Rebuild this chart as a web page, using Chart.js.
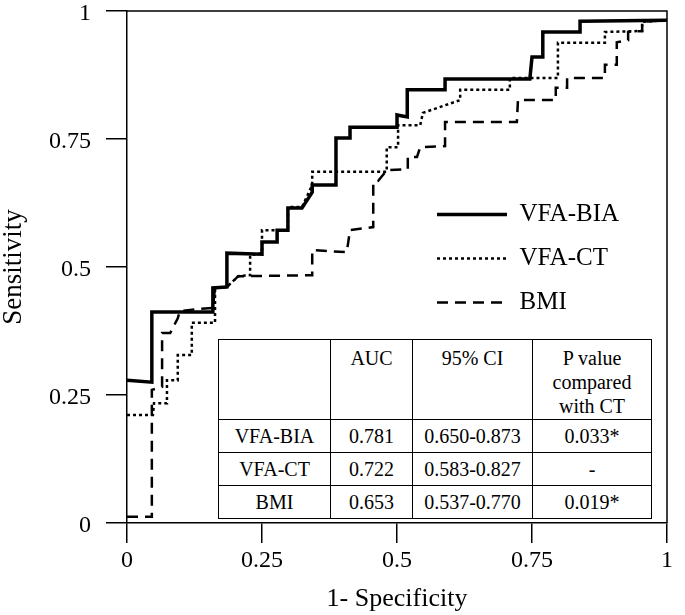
<!DOCTYPE html>
<html>
<head>
<meta charset="utf-8">
<script src="https://cdn.jsdelivr.net/npm/chart.js@4.4.1/dist/chart.umd.min.js"></script>
<style>
  body { margin: 0; background: #fff; }
  #wrap { position: relative; width: 685px; height: 615px; }
  #aucTable {
    position: absolute; left: 218px; top: 339px;
    width: 433px; table-layout: fixed;
    border-collapse: collapse; background: #fff;
    font-family: 'Liberation Serif', serif; font-size: 20px; color: #000;
  }
  #aucTable td { border: 1.5px solid #000; text-align: center; padding: 0; line-height: 22px; }
  #aucTable tr.head td { vertical-align: top; padding-top: 6px; line-height: 24px; white-space: pre-line; }
</style>
</head>
<body>
<div id="wrap">
  <canvas id="roc" width="685" height="615"></canvas>
  <table id="aucTable">
    <colgroup><col style="width:112px"><col style="width:82px"><col style="width:120px"><col style="width:119px"></colgroup>
    <tbody></tbody>
  </table>
</div>
<script>
// axis ticks
const tickValues = [0, 0.25, 0.5, 0.75, 1];
const tickLabels = ['0', '0.25', '0.5', '0.75', '1'];

const seriesNames = ['VFA-BIA', 'VFA-CT', 'BMI'];

// VFA-BIA (solid)
const biaX = [0, 0.046, 0.046, 0.159, 0.159, 0.185, 0.185, 0.250, 0.250, 0.278, 0.278, 0.298, 0.298, 0.324, 0.343, 0.343,
  0.387, 0.387, 0.413, 0.413, 0.500, 0.500, 0.519, 0.519, 0.589, 0.589, 0.746, 0.750, 0.770, 0.770, 0.839, 0.839, 1];
const biaY = [0.279, 0.275, 0.412, 0.412, 0.459, 0.461, 0.527, 0.525, 0.549, 0.549, 0.572, 0.572, 0.615, 0.615, 0.646, 0.660,
  0.660, 0.752, 0.752, 0.773, 0.773, 0.797, 0.793, 0.846, 0.846, 0.867, 0.867, 0.910, 0.910, 0.959, 0.959, 0.980, 0.982];

// VFA-CT (dotted)
const ctX = [0, 0.048, 0.050, 0.074, 0.074, 0.094, 0.094, 0.120, 0.120, 0.163, 0.163, 0.185, 0.206, 0.228, 0.228, 0.250,
  0.250, 0.298, 0.298, 0.324, 0.343, 0.343, 0.481, 0.481, 0.502, 0.502, 0.543, 0.548, 0.617, 0.617, 0.709, 0.709,
  0.798, 0.798, 0.885, 0.885, 0.954, 0.954, 1];
const ctY = [0.211, 0.211, 0.234, 0.234, 0.279, 0.279, 0.328, 0.328, 0.391, 0.391, 0.459, 0.461, 0.482, 0.484, 0.523, 0.527,
  0.572, 0.572, 0.617, 0.617, 0.660, 0.686, 0.686, 0.734, 0.734, 0.777, 0.777, 0.801, 0.826, 0.846, 0.846, 0.869,
  0.869, 0.938, 0.938, 0.959, 0.961, 0.979, 0.982];

// BMI (dashed)
const bmiX = [0, 0.046, 0.046, 0.065, 0.065, 0.080, 0.094, 0.098, 0.131, 0.159, 0.163, 0.185, 0.206, 0.343, 0.343, 0.407,
  0.413, 0.456, 0.456, 0.465, 0.481, 0.520, 0.520, 0.537, 0.543, 0.589, 0.589, 0.722, 0.724, 0.794, 0.794, 0.815,
  0.815, 0.885, 0.885, 0.907, 0.907, 0.928, 0.928, 0.954, 0.954, 1];
const bmiY = [0.012, 0.012, 0.260, 0.266, 0.371, 0.371, 0.400, 0.414, 0.418, 0.420, 0.459, 0.461, 0.482, 0.484, 0.533, 0.529,
  0.572, 0.578, 0.666, 0.668, 0.689, 0.691, 0.715, 0.715, 0.734, 0.736, 0.783, 0.783, 0.826, 0.826, 0.850, 0.850,
  0.869, 0.869, 0.895, 0.895, 0.939, 0.943, 0.959, 0.961, 0.979, 0.982];

// inset table
const tableHeader = ['', 'AUC', '95% CI', 'P value\ncompared\nwith CT'];
const aucValues = ['0.781', '0.722', '0.653'];
const ciValues = ['0.650-0.873', '0.583-0.827', '0.537-0.770'];
const pValues = ['0.033*', '-', '0.019*'];

function toPoints(xs, ys) {
  return xs.map((x, i) => ({ x: x, y: ys[i] }));
}

// fill the table
const tbody = document.querySelector('#aucTable tbody');
const headRow = document.createElement('tr');
headRow.className = 'head';
headRow.style.height = '80px';
tableHeader.forEach((t) => {
  const td = document.createElement('td');
  td.textContent = t;
  headRow.appendChild(td);
});
tbody.appendChild(headRow);
seriesNames.forEach((name, i) => {
  const tr = document.createElement('tr');
  tr.style.height = '33px';
  [name, aucValues[i], ciValues[i], pValues[i]].forEach((t) => {
    const td = document.createElement('td');
    td.textContent = t;
    tr.appendChild(td);
  });
  tbody.appendChild(tr);
});

Chart.defaults.font.family = "'Liberation Serif', 'Times New Roman', serif";
Chart.defaults.color = '#000';

// top and right edges of the plot box
const frame = {
  id: 'frame',
  afterDatasetsDraw(chart) {
    const { ctx, chartArea: a } = chart;
    ctx.save();
    ctx.strokeStyle = '#000';
    ctx.lineWidth = 1.5;
    ctx.beginPath();
    ctx.moveTo(a.left, a.top);
    ctx.lineTo(a.right, a.top);
    ctx.lineTo(a.right, a.bottom);
    ctx.stroke();
    ctx.restore();
  }
};

// move the legend box inside the plot, right side
const placeLegend = {
  id: 'placeLegend',
  afterLayout(chart) {
    const lg = chart.legend;
    if (!lg) return;
    lg.left = 418;
    lg.top = 183;
    lg.right = chart.chartArea.right;
    lg.bottom = chart.chartArea.bottom;
  }
};

const lineStyles = [
  { borderWidth: 3.5, borderDash: [] },
  { borderWidth: 2.5, borderDash: [3, 3] },
  { borderWidth: 2.5, borderDash: [11, 7] }
];
const seriesX = [biaX, ctX, bmiX];
const seriesY = [biaY, ctY, bmiY];

new Chart(document.getElementById('roc'), {
  type: 'scatter',
  data: {
    datasets: seriesNames.map((name, i) => ({
      label: name,
      data: toPoints(seriesX[i], seriesY[i]),
      showLine: true,
      borderColor: '#000',
      backgroundColor: '#000',
      borderWidth: lineStyles[i].borderWidth,
      borderDash: lineStyles[i].borderDash,
      pointRadius: 0,
      tension: 0
    }))
  },
  options: {
    responsive: false,
    animation: false,
    devicePixelRatio: 1,
    layout: { padding: { top: 11, right: 18, left: 0, bottom: 0 } },
    plugins: {
      tooltip: { enabled: false },
      legend: {
        position: 'chartArea',
        align: 'start',
        labels: {
          usePointStyle: true,
          pointStyle: 'line',
          pointStyleWidth: 70,
          padding: 19,
          color: '#000',
          font: { size: 25 },
          generateLabels(chart) {
            return Chart.defaults.plugins.legend.labels.generateLabels(chart).map((item) => {
              const ds = chart.data.datasets[item.datasetIndex];
              item.lineDash = ds.borderDash;
              item.lineWidth = ds.borderWidth;
              item.strokeStyle = '#000';
              return item;
            });
          }
        }
      }
    },
    scales: {
      x: {
        type: 'linear',
        min: 0,
        max: 1,
        afterBuildTicks: (s) => { s.ticks = tickValues.map((v) => ({ value: v })); },
        afterFit: (s) => { s.height = 92; s.paddingLeft = 0; s.paddingRight = 0; },
        border: { display: true, color: '#000', width: 1.5 },
        grid: { drawOnChartArea: false, drawTicks: true, tickLength: 20, color: '#000', lineWidth: 1.5 },
        ticks: {
          color: '#000', font: { size: 24 }, padding: 3, maxRotation: 0, autoSkip: false,
          callback: (v, i) => tickLabels[i]
        },
        title: { display: true, text: '1- Specificity', color: '#000', font: { size: 26 }, padding: 0 }
      },
      y: {
        type: 'linear',
        min: 0,
        max: 1,
        afterBuildTicks: (s) => { s.ticks = tickValues.map((v) => ({ value: v })); },
        afterFit: (s) => { s.width = 127; s.paddingTop = 0; s.paddingBottom = 0; },
        border: { display: true, color: '#000', width: 1.5 },
        grid: { drawOnChartArea: false, drawTicks: true, tickLength: 21, color: '#000', lineWidth: 1.5 },
        ticks: {
          color: '#000', font: { size: 24 }, padding: 15, labelOffset: 3, autoSkip: false,
          callback: (v, i) => tickLabels[i]
        },
        title: { display: true, text: 'Sensitivity', color: '#000', font: { size: 27, lineHeight: 1 }, padding: 0 }
      }
    }
  },
  plugins: [frame, placeLegend]
});
</script>
</body>
</html>
